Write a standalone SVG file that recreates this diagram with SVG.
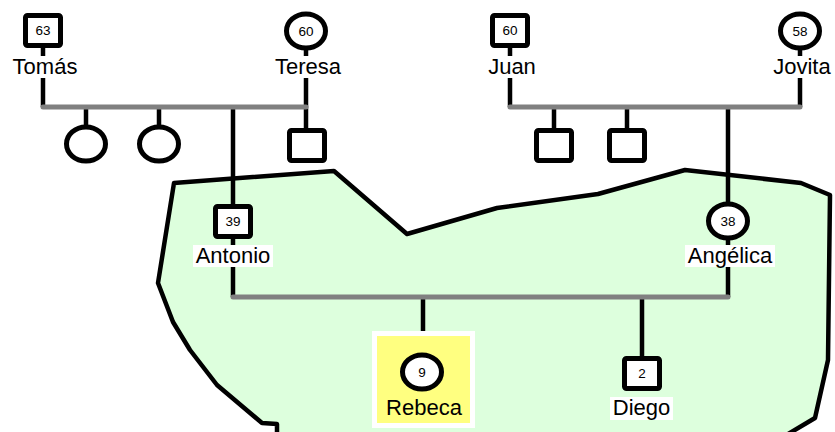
<svg xmlns="http://www.w3.org/2000/svg" width="835" height="432" viewBox="0 0 835 432">
<style>
.sym{fill:#fff;stroke:#000;stroke-width:5}
.num{font-family:"Liberation Sans",Arial,sans-serif;font-size:13.5px;text-anchor:middle;fill:#000}
.lbl{font-family:"Liberation Sans",Arial,sans-serif;font-size:22px;text-anchor:middle;fill:#000}
.bg{fill:#fff}
.rel{stroke:#808080;stroke-width:5;stroke-linecap:round;fill:none}
.desc{stroke:#000;stroke-width:4.5;fill:none}
</style>
<rect width="835" height="432" fill="#fff"/>
<polygon id="household" points="174,183 334,171 407,234 497,208 598,194 685,170 801,183 830,195 828,360 815,418 778,440 277,440 277,424 262,423 217,385 190,350 173,322 158,283" fill="#ddffdd" stroke="#000" stroke-width="4.5" stroke-linejoin="round"/>
<g id="connectors">
<path class="desc" d="M43,47V107 M306,50V128 M510,47V107 M800,50V107"/>
<path class="desc" d="M86,107V127 M159,107V127 M233,107V204 M554,107V130 M627,107V130 M728,107V202"/>
<path class="desc" d="M233,238V297 M728,240V297 M423,297V334 M642,297V357"/>
<path class="rel" d="M43,107H306 M510,107H800 M233,297H728"/>
</g>
<g id="tomas">
<rect class="sym" x="25.5" y="15.5" width="35" height="30" rx="2"/>
<text class="num" x="43" y="35">63</text>
<rect class="bg" x="10" y="56" width="70" height="22"/>
<text class="lbl" x="45" y="74">Tomás</text>
</g>
<g id="teresa">
<ellipse class="sym" cx="306" cy="31" rx="19.5" ry="17"/>
<text class="num" x="306" y="35.5">60</text>
<rect class="bg" x="271" y="56" width="74" height="22"/>
<text class="lbl" x="308" y="74">Teresa</text>
</g>
<g id="juan">
<rect class="sym" x="492.5" y="15.5" width="35" height="30" rx="2"/>
<text class="num" x="510" y="35">60</text>
<rect class="bg" x="485" y="56" width="54" height="22"/>
<text class="lbl" x="512" y="74">Juan</text>
</g>
<g id="jovita">
<ellipse class="sym" cx="800" cy="31" rx="19.5" ry="17"/>
<text class="num" x="800" y="35.5">58</text>
<rect class="bg" x="770" y="56" width="65" height="22"/>
<text class="lbl" x="802" y="74">Jovita</text>
</g>
<g id="daughter1"><ellipse class="sym" cx="86" cy="144" rx="19.5" ry="17"/></g>
<g id="daughter2"><ellipse class="sym" cx="159" cy="144" rx="19.5" ry="17"/></g>
<g id="son1"><rect class="sym" x="289.5" y="130.5" width="35" height="30" rx="2"/></g>
<g id="son2"><rect class="sym" x="536.5" y="130.5" width="35" height="30" rx="2"/></g>
<g id="son3"><rect class="sym" x="609.5" y="130.5" width="35" height="30" rx="2"/></g>
<g id="antonio">
<rect class="sym" x="215.5" y="206.5" width="35" height="30" rx="2"/>
<text class="num" x="233" y="226">39</text>
<rect class="bg" x="193" y="245" width="80" height="22"/>
<text class="lbl" x="233" y="263">Antonio</text>
</g>
<g id="angelica">
<ellipse class="sym" cx="728" cy="221" rx="19.5" ry="17"/>
<text class="num" x="728" y="225.5">38</text>
<rect class="bg" x="685" y="245" width="90" height="22"/>
<text class="lbl" x="730" y="263">Angélica</text>
</g>
<g id="rebeca">
<rect x="374.5" y="333.5" width="98" height="92" fill="#ffff80" stroke="#fff" stroke-width="5"/>
<ellipse class="sym" cx="422" cy="372" rx="19.5" ry="17"/>
<text class="num" x="422" y="376.5">9</text>
<text class="lbl" x="424" y="415">Rebeca</text>
</g>
<g id="diego">
<rect class="sym" x="624.5" y="358.5" width="35" height="30" rx="2"/>
<text class="num" x="642" y="378">2</text>
<rect class="bg" x="610" y="397" width="63" height="23"/>
<text class="lbl" x="641.5" y="415">Diego</text>
</g>
</svg>
